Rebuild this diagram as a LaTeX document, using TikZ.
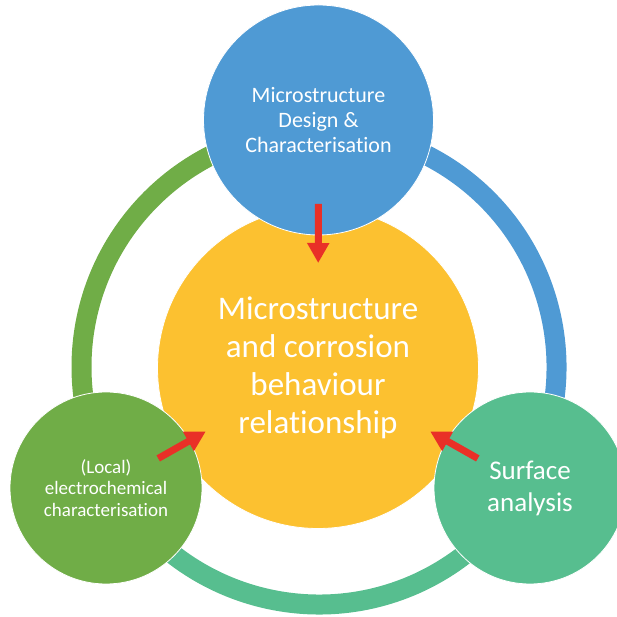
\documentclass[tikz,border=0pt]{standalone}
\usepackage{fontspec}
\setmainfont{Carlito}[Ligatures=CommonOff]
\usetikzlibrary{arrows.meta}

\definecolor{designblue}{RGB}{79,154,212}
\definecolor{hubyellow}{RGB}{252,193,48}
\definecolor{localgreen}{RGB}{112,173,71}
\definecolor{surfaceteal}{RGB}{87,190,143}
\definecolor{arrowred}{RGB}{233,48,39}

\begin{document}
\begin{tikzpicture}[x=1pt, y=1pt,
  topic/.style={circle, draw=white, line width=0.8pt, text=white, align=center, inner sep=0pt},
  band/.style={line width=20pt},
  link/.style={draw=arrowred, line width=7pt, -{Triangle[width=21pt,length=20pt]}}]

\clip (0,0) rectangle (617,617);

% outer ring
\coordinate (ring) at (319,250);
\draw [band, designblue] (ring) ++(-30:237.5) arc (-30:90:237.5);
\draw [band, localgreen] (ring) ++(90:237.5) arc (90:210:237.5);
\draw [band, surfaceteal] (ring) ++(210:237.5) arc (210:330:237.5);

% circles
\node [topic, fill=hubyellow, minimum size=321pt, font=\fontsize{33}{38}\selectfont]
  (centre) at (318,249) {Microstructure\\and corrosion\\behaviour\\relationship};
\node [topic, fill=designblue, minimum size=230pt, font=\fontsize{22}{25}\selectfont]
  (design) at (318.5,497) {Microstructure\\Design \&\\Characterisation};
\node [topic, fill=localgreen, minimum size=192pt, font=\fontsize{19}{21.7}\selectfont]
  (local) at (106,129) {(Local)\\electrochemical\\characterisation};
\node [topic, fill=surfaceteal, minimum size=192pt, font=\fontsize{27}{32}\selectfont]
  (surface) at (530,129) {Surface\\analysis};

% arrows into the centre
\foreach \from/\s/\t in {design/84/105, local/60/129, surface/60/129}
  \draw [link, shorten <=\s pt, shorten >=\t pt] (\from.center) -- (centre.center);

\end{tikzpicture}
\end{document}
